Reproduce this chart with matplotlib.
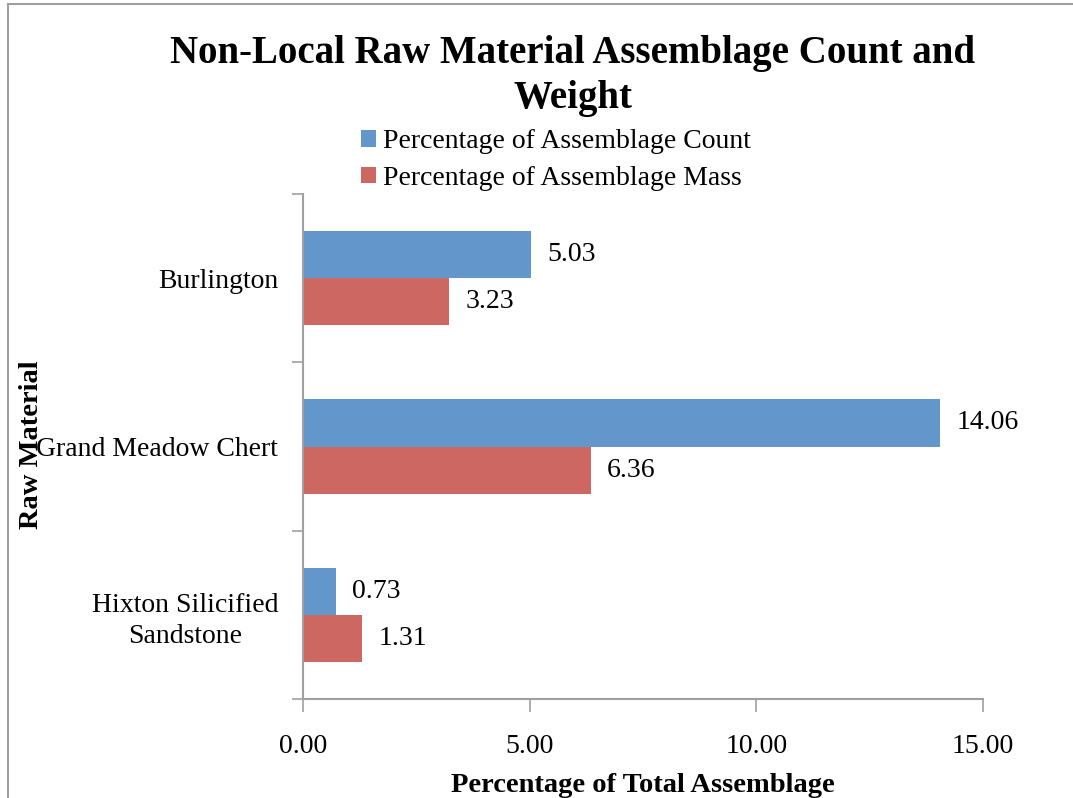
import matplotlib.pyplot as plt
from matplotlib.patches import Rectangle
import numpy as np

# ------------------------
# Data
# ------------------------
materials = ["Burlington", "Grand Meadow Chert", "Hixton Silicified\nSandstone"]
count_pct = [5.03, 14.06, 0.73]
mass_pct = [3.23, 6.36, 1.31]
series_names = ["Percentage of Assemblage Count", "Percentage of Assemblage Mass"]
x_ticks = [0, 5, 10, 15]

blue = "#6397cb"
red = "#cd6762"
grey = "#a0a0a0"

plt.rcParams['font.family'] = ['Liberation Serif', 'DejaVu Serif']

fig = plt.figure(figsize=(10.73, 7.98), dpi=100)
ax = fig.add_axes([303/1073, 1 - 699/798, 680/1073, 505/798])

# outer chart frame (only left/top visible in the reference)
fig.patches.append(Rectangle((8/1073, -0.05), 1.2, 1 - 4/798 + 0.05,
                             transform=fig.transFigure, fill=False,
                             edgecolor=grey, lw=1.5))

y = np.arange(len(materials))[::-1].astype(float)
h = 0.28
b1 = ax.barh(y + h/2, count_pct, height=h, color=blue, label=series_names[0])
b2 = ax.barh(y - h/2, mass_pct, height=h, color=red, label=series_names[1])

for bars, vals in ((b1, count_pct), (b2, mass_pct)):
    for bar, v in zip(bars, vals):
        ax.text(bar.get_width() + 0.35, bar.get_y() + bar.get_height()/2,
                f"{v:.2f}", va="center", ha="left", fontsize=20)

ax.set_xlim(0, 15)
ax.set_ylim(-0.5, 2.5)
ax.set_xticks(x_ticks)
ax.set_xticklabels([f"{v:.2f}" for v in x_ticks], fontsize=20)
ax.set_yticks([-0.5, 0.5, 1.5, 2.5])
ax.set_yticklabels([])
ax.set_yticks(y, minor=True)
ax.set_yticklabels(materials, minor=True, fontsize=20, ha="right",
                   multialignment="center", linespacing=1.3)
ax.tick_params(axis="y", which="minor", length=0, pad=18)
ax.tick_params(axis="y", which="major", length=8, color=grey, width=1.2)
ax.tick_params(axis="x", length=9, color=grey, width=1.2, pad=16)

for s in ("top", "right"):
    ax.spines[s].set_visible(False)
for s in ("left", "bottom"):
    ax.spines[s].set_color(grey)
    ax.spines[s].set_linewidth(1.5)

ax.set_xlabel("Percentage of Total Assemblage", fontsize=20.5, fontweight="bold", labelpad=10)
fig.text(32/1073, 1 - 445/798, "Raw Material", rotation=90, fontsize=20.5,
         fontweight="bold", ha="center", va="center")

fig.text(573/1073, 1 - 76/798, "Non-Local Raw Material Assemblage Count and\nWeight",
         ha="center", va="center", fontsize=28, fontweight="bold", linespacing=1.3)

fig.legend(handles=[b1, b2], loc="center", bbox_to_anchor=(556/1073, 1 - 160/798),
           frameon=False, fontsize=20, handlelength=0.55, handleheight=0.55,
           handletextpad=0.25, labelspacing=0.42, borderpad=0)

fig.savefig("out.png", dpi=100)
